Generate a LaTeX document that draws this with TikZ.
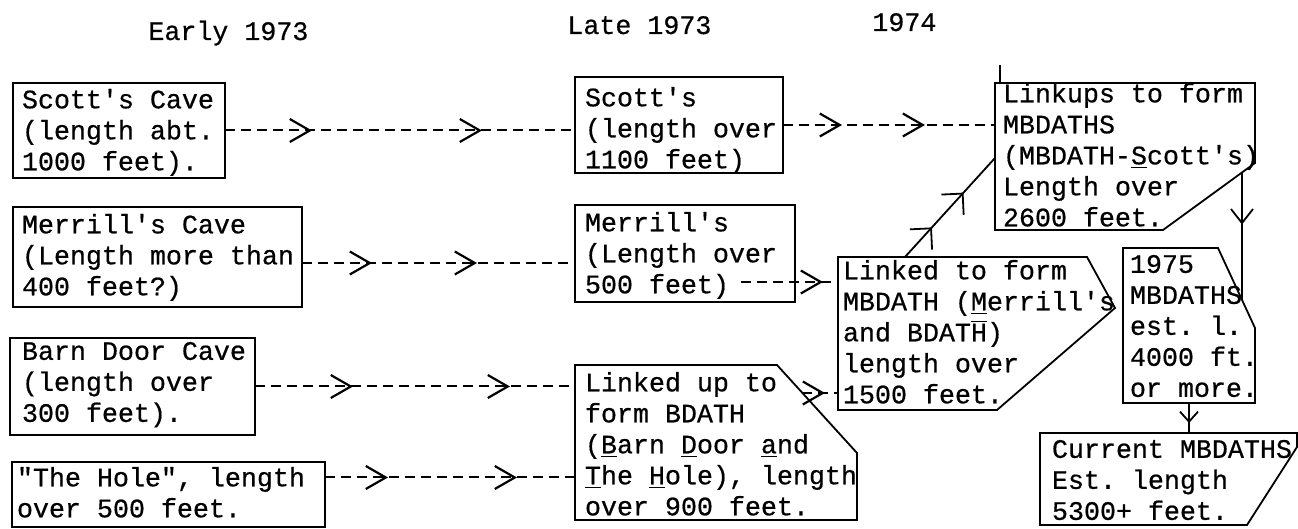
\documentclass[tikz,border=0pt]{standalone}
\usepackage{fontspec}
\setmonofont[FakeBold=0.6]{Liberation Mono}
\usetikzlibrary{arrows.meta,decorations.markings,fit}
\newcommand{\twfont}{\fontsize{13.33pt}{15.5pt}\selectfont\ttfamily}
\tikzset{
  txt/.style={anchor=north west,inner sep=0pt,outer sep=0pt,align=left,font=\twfont,yshift=-3pt,execute at begin node={\rule{0pt}{12pt}}},
  hdr/.style={anchor=base west,inner sep=0pt,font=\twfont},
  rbox/.style={draw,line width=0.9pt,inner sep=0pt,outer sep=0pt},
  cbox/.style={inner sep=0pt,outer sep=0pt},
  outline/.style={draw,line width=0.9pt},
  dline/.style={line width=1pt,dash pattern=on 5pt off 3pt},
  sline/.style={line width=0.9pt},
  marks/.style={postaction={decorate,decoration={markings,#1}}},
  tw/.tip={Straight Barb[length=10pt,width=11.5pt,line width=1.1pt]},
  twd/.tip={Straight Barb[length=7.5pt,width=15pt,line width=0.9pt]},
  twv/.tip={Straight Barb[length=7pt,width=11pt,line width=0.9pt]},
  tws/.tip={Straight Barb[length=5pt,width=9pt,line width=0.9pt]}
}
\begin{document}
\begin{tikzpicture}[x=0.5pt,y=-0.5pt]
\useasboundingbox (0,0) rectangle (1298,529);

% headers
\node[hdr] (h1) at (148,40) {Early 1973};
\node[hdr] (h2) at (567,34) {Late 1973};
\node[hdr] (h3) at (872,31) {1974};

% early 1973
\node[rbox,fit={(13,83) (225,178)}] (s1) {};
\node[txt] (s1t) at (22,83) {Scott's Cave\\(length abt.\\1000 feet).};
\node[rbox,fit={(13,207) (302,307)}] (s2) {};
\node[txt] (s2t) at (22,208) {Merrill's Cave\\(Length more than\\400 feet?)};
\node[rbox,fit={(10,338) (255,435)}] (s3) {};
\node[txt] (s3t) at (22,336) {Barn Door Cave\\(length over\\300 feet).};
\node[rbox,fit={(12,462) (325,527)}] (s4) {};
\node[txt] (s4t) at (17,461) {"The Hole", length\\over 500 feet.};

% late 1973
\node[rbox,fit={(575,77) (783,173)}] (l1) {};
\node[txt] (l1t) at (585,81) {Scott's\\(length over\\1100 feet)};
\node[rbox,fit={(575,205) (795,302)}] (l2) {};
\node[txt] (l2t) at (585,206) {Merrill's\\(Length over\\500 feet)};
\node[cbox,fit={(575,365) (857,520)}] (l3) {};
\draw[outline] (l3.north west) -- ([xshift=-40pt]l3.north east) -- ([yshift=-44pt]l3.north east) -- (l3.south east) -- (l3.south west) -- cycle;
\node[txt] (l3t) at (585,366) {Linked up to\\form BDATH\\(\underline{B}arn \underline{D}oor \underline{a}nd\\\underline{T}he \underline{H}ole), length\\over 900 feet.};

% 1974
\node[cbox,fit={(995,83) (1255,230)}] (k1) {};
\draw[outline] (k1.north west) -- (k1.north east) -- ([yshift=33.5pt]k1.south east) -- ([xshift=-46pt]k1.south east) -- (k1.south west) -- cycle;
\draw[sline] ([xshift=2.5pt]k1.north west) -- ([xshift=2.5pt,yshift=9pt]k1.north west);
\node[txt] (k1t) at (1003,77) {Linkups to form\\MBDATHS\\(MBDATH-\underline{S}cott's)\\Length over\\2600 feet.};
\node[cbox,fit={(838,257) (1115,410)}] (m1) {};
\draw[outline] (m1.north west) -- ([xshift=-14pt]m1.north east) -- ([yshift=-25.5pt]m1.north east) -- ([xshift=79.5pt]m1.south west) -- (m1.south west) -- cycle;
\node[txt] (m1t) at (843,254) {Linked to form\\MBDATH (\underline{M}errill's\\and BDAT$\overline{\mbox{H}}$)\\length over\\1500 feet.};

% 1975 and current
\node[cbox,fit={(1123,248) (1255,403)}] (y1) {};
\draw[outline] (y1.north west) -- ([xshift=-18.5pt]y1.north east) -- ([yshift=-40pt]y1.north east) -- (y1.south east) -- (y1.south west) -- cycle;
\node[txt] (y1t) at (1130,249) {1975\\MBDATHS\\est. l.\\4000 ft.\\or more.};
\node[cbox,fit={(1040,433) (1297,525)}] (c1) {};
\draw[outline] (c1.north west) -- (c1.north east) -- ([yshift=-7pt]c1.north east) -- ([xshift=-25pt]c1.south east) -- (c1.south west) -- cycle;
\node[txt] (c1t) at (1052,434) {Current MBDATHS\\Est. length\\5300+ feet.};

% connector end points
\coordinate (a2) at ([yshift=-3pt]s2.east);
\coordinate (a4) at ([yshift=8.5pt]s4.east);
\coordinate (a6) at ([xshift=-27pt,yshift=10pt]l2.south east);
\coordinate (a7) at ([xshift=-27.5pt,yshift=-14pt]l3.north east);
\coordinate (a8) at ([xshift=33.5pt]m1.north west);
\coordinate (b8) at ([yshift=-37.5pt]k1.north west);
\coordinate (a9) at ([xshift=-6.5pt,yshift=28.75pt]k1.south east);
\coordinate (b9) at ([xshift=-6.5pt,yshift=-26pt]y1.north east);

% dashed connectors
\draw[dline,marks={mark=at position 43.5pt with {\pgfsetdash{}{0pt}\arrow{tw}},mark=at position 128.5pt with {\pgfsetdash{}{0pt}\arrow{tw}}}] (s1.east) -- (s1.east -| l1.west);
\draw[dline,marks={mark=at position 35pt with {\pgfsetdash{}{0pt}\arrow{tw}},mark=at position 87.5pt with {\pgfsetdash{}{0pt}\arrow{tw}}}] (a2) -- (a2 -| l2.west);
\draw[dline,marks={mark=at position 49pt with {\pgfsetdash{}{0pt}\arrow{tw}},mark=at position 127.5pt with {\pgfsetdash{}{0pt}\arrow{tw}}}] (s3.east) -- (s3.east -| l3.west);
\draw[dline,marks={mark=at position 31.5pt with {\pgfsetdash{}{0pt}\arrow{tw}},mark=at position 96pt with {\pgfsetdash{}{0pt}\arrow{tw}}}] (a4) -- (a4 -| l3.west);
\draw[dline,marks={mark=at position 29.5pt with {\pgfsetdash{}{0pt}\arrow{tw}},mark=at position 71pt with {\pgfsetdash{}{0pt}\arrow{tw}}}] (l1.east) -- (l1.east -| k1.west);
\draw[dline,marks={mark=at position 41pt with {\pgfsetdash{}{0pt}\arrow{tw}}}] (a6) -- (a6 -| m1.west);
\draw[dline,marks={mark=at position 11.5pt with {\pgfsetdash{}{0pt}\arrow{tw}}}] (a7) -- (a7 -| m1.west);

% solid connectors
\draw[sline,marks={mark=at position 20pt with {\arrow{twd}},mark=at position 43.5pt with {\arrow{twd}}}] (a8) -- (b8);
\draw[sline,marks={mark=at position 26pt with {\arrow{twv}}}] (a9) -- (b9);
\draw[sline,marks={mark=at position 10pt with {\arrow{tws}}}] (y1.south) -- (y1.south |- c1.north);
\end{tikzpicture}
\end{document}
